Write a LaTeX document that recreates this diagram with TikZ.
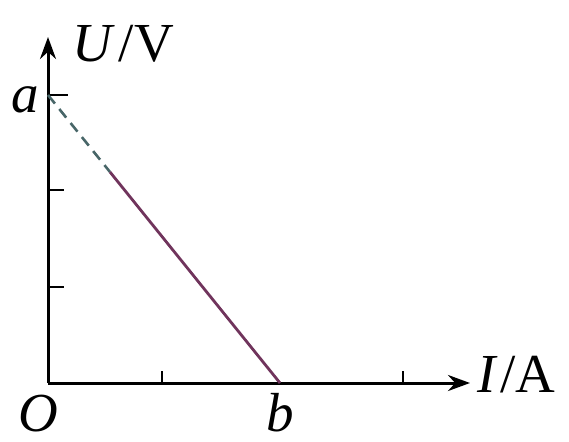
\documentclass[tikz,border=0pt]{standalone}
\usepackage{fontspec}
\setmainfont{Liberation Serif}
\usetikzlibrary{arrows.meta}
\definecolor{linepurple}{RGB}{112,52,92}
\definecolor{dashteal}{RGB}{72,102,104}
\tikzset{
  axis/.style={line width=3pt,-{Stealth[length=22pt,width=16pt]}},
  tickmark/.style={line width=2.4pt},
  lbl/.style={font=\fontsize{55}{55}\selectfont,inner sep=0pt},
}
\begin{document}
\begin{tikzpicture}[x=1pt,y=-1pt]
\useasboundingbox (0,0) rectangle (569,441);
\coordinate (O) at (48,383);
\coordinate (ytip) at (48,37);
\coordinate (xtip) at (470,383);
\coordinate (A) at (48,95);
\coordinate (B) at (280,383);
\coordinate (P) at (110,172);
% axes
\draw[axis] (O) -- (ytip);
\draw[axis] (O) -- (xtip);
% y ticks
\draw[tickmark] (A) -- ++(20,0);
\draw[tickmark] (48,190) coordinate (y2) -- ++(16,0);
\draw[tickmark] (48,287) coordinate (y1) -- ++(16,0);
% x ticks
\draw[tickmark] (162,383) coordinate (x1) -- ++(0,-12);
\draw[tickmark] (403,383) coordinate (x3) -- ++(0,-12);
% lines
\draw[dashteal,line width=2.6pt,dash pattern=on 11pt off 7pt] (A) -- (P);
\draw[linepurple,line width=2.8pt] (P) -- (B);
% labels
\node[lbl,anchor=base west] (ulab) at (72,62) {\itshape U\kern7pt\upshape/V};
\node[lbl,anchor=base west] (ilab) at (477,392) {\itshape I\kern5pt\upshape/A};
\node[lbl,anchor=base] (alab) at (25,112) {\itshape a};
\node[lbl,anchor=base] (olab) at (38,431) {\itshape O};
\node[lbl,anchor=base] (blab) at (280,431) {\itshape b};
\end{tikzpicture}
\end{document}
